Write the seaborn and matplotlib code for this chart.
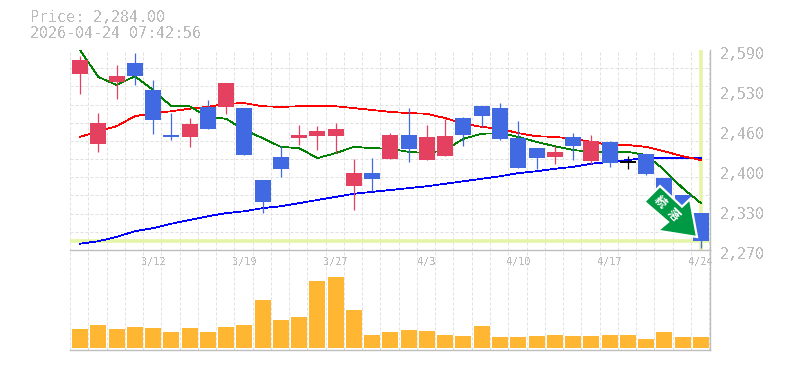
import matplotlib
matplotlib.use("Agg")
import matplotlib.pyplot as plt
from matplotlib.patches import Polygon
from matplotlib.transforms import ScaledTranslation
import numpy as np
import pandas as pd
import seaborn as sns

days = list(range(35))
opens = [2552,2440,2539,2569,2526,2454,2451,2499,2499,2497,2382,2419,2449,2452,2452,2372,2393,2416,2454,2414,
         2420,2481,2500,2497,2449,2433,2419,2451,2412,2443,2411,2424,2385,2358,2329]
closes = [2574,2473,2548,2548,2478,2451,2472,2464,2537,2422,2347,2400,2454,2460,2464,2393,2384,2454,2432,2451,
          2452,2454,2484,2448,2401,2417,2427,2436,2444,2409,2411,2392,2335,2310,2284]
highs = [2580,2489,2566,2585,2542,2489,2481,2510,2537,2497,2382,2436,2470,2468,2473,2416,2417,2457,2497,2470,
         2480,2483,2500,2505,2476,2433,2436,2457,2454,2444,2420,2424,2385,2358,2329]
lows = [2520,2427,2512,2534,2456,2446,2435,2464,2488,2422,2329,2387,2438,2430,2425,2334,2364,2416,2411,2414,
        2420,2436,2467,2446,2401,2400,2408,2414,2408,2403,2399,2390,2335,2310,2273]
ma_green = [2590,2547,2534,2548,2526,2500,2500,2483,2480,2462,2449,2435,2433,2417,2425,2435,2433,2432,2427,2425,
            2430,2448,2456,2457,2451,2443,2436,2430,2427,2427,2427,2422,2398,2369,2345]
ma_red = [2451,2460,2468,2484,2489,2492,2496,2499,2504,2505,2500,2499,2500,2500,2500,2497,2494,2491,2489,2488,
          2481,2472,2467,2464,2457,2452,2451,2448,2443,2438,2438,2435,2428,2420,2414]
ma_blue = [2280,2284,2291,2300,2305,2312,2318,2324,2329,2332,2337,2340,2345,2350,2355,2360,2363,2366,2369,2372,
           2376,2380,2384,2388,2393,2396,2400,2403,2408,2411,2414,2417,2417,2417,2417]
volumes = [19,23,19,21,20,16,20,16,21,23,48,28,31,67,71,38,13,16,18,17,13,12,22,11,11,12,13,12,12,13,13,9,16,11,11]
price_ticks = [2590,2526,2462,2398,2334,2270]
price_labels = ["2,590","2,530","2,460","2,400","2,330","2,270"]
date_ticks = [4,9,14,19,24,29,34]
date_labels = ["3/12","3/19","3/27","4/3","4/10","4/17","4/24"]
last_price = 2284

W, H = 785, 370
GRID = "#e0e0e0"; AXIS = "#bdbdbd"; TXT = "#bbbbbb"; HILITE = "#e4f4a8"
RED = "#e4405f"; BLUE = "#4169e1"; AMBER = "#ffb733"

sns.set_theme(style="white")
plt.rcParams["font.family"] = ["DejaVu Sans Mono"]
plt.rcParams["text.antialiased"] = False

fig = plt.figure(figsize=(W/100, H/100), dpi=100, facecolor="white")
ax = fig.add_axes([70/W, 120/H, 640/W, 200/H])
av = fig.add_axes([70/W, 20/H, 640/W, 100/H])
xlim = (-0.548, 34.5)
xgrid = [-0.548 + k for k in range(36)]

# volume panel
sns.barplot(x=days, y=volumes, native_scale=True, width=0.876, gap=0, color=AMBER,
            saturation=1, linewidth=0, ax=av, zorder=3)
av.set_xlim(*xlim); av.set_ylim(-2, 98)
av.set_xlabel(""); av.set_ylabel("")
av.set_yticks([])
av.set_xticks([]); av.set_xticks(xgrid, minor=True)
av.tick_params(which="both", length=0, labelbottom=False)
av.grid(False)
av.grid(which="minor", axis="x", color=GRID, lw=0.72, ls=(0, (3, 2)), zorder=0)
av.set_axisbelow(True)
for s, vis in dict(left=False, top=True, right=True, bottom=True).items():
    av.spines[s].set_visible(vis); av.spines[s].set_color(AXIS); av.spines[s].set_linewidth(1.0)
for d, lab in zip(date_ticks, date_labels):
    av.annotate(lab, (d, 0.885), xycoords=av.get_xaxis_transform(), ha="center", va="center",
                fontsize=7.4, color=TXT, zorder=5, annotation_clip=False)

# price panel
ax.axhline(last_price, color=HILITE, lw=2.6, zorder=1.5)
ax.axvline(days[-1], color=HILITE, lw=2.6, zorder=1.5)
ma = pd.DataFrame(dict(day=days, green=ma_green, red=ma_red, blue=ma_blue))
for col, c in [("blue", "#0000ff"), ("red", "#ff0000"), ("green", "#008000")]:
    sns.lineplot(data=ma, x="day", y=col, color=c, errorbar=None, ax=ax, zorder=2,
                 linewidth=0.55, antialiased=False, clip_on=True)

for d, o, c, h, l in zip(days, opens, closes, highs, lows):
    col = "#000000" if o == c else (RED if c > o else BLUE)
    ax.vlines(d, l, h, color=col, lw=0.9, zorder=3)
    if o == c:
        ax.hlines(o, d - 0.438, d + 0.438, color=col, lw=1.4, zorder=3)
    else:
        ax.bar(d, abs(c - o), bottom=min(o, c), width=0.876, color=col, lw=0, zorder=3)

ax.set_xlim(*xlim); ax.set_ylim(2270, 2590)
ax.set_xlabel(""); ax.set_ylabel("")
ax.set_xticks([]); ax.set_xticks(xgrid, minor=True)
ax.set_yticks(price_ticks, labels=price_labels)
ax.set_yticks([2270 + k*320/11 for k in range(12)], minor=True)
ax.yaxis.tick_right()
ax.tick_params(which="both", length=0)
ax.tick_params(axis="y", which="major", pad=7.2, labelsize=10.8, labelcolor=TXT)
ax.tick_params(axis="x", labelbottom=False)
ax.grid(False)
ax.grid(which="minor", color=GRID, lw=0.72, ls=(0, (3, 2)), zorder=0)
ax.set_axisbelow(True)
for lab in ax.get_yticklabels():
    lab.set_transform(lab.get_transform() + ScaledTranslation(0, -3/100, fig.dpi_scale_trans))
for s, vis in dict(left=False, top=False, right=True, bottom=False).items():
    ax.spines[s].set_visible(vis); ax.spines[s].set_color(AXIS); ax.spines[s].set_linewidth(1.0)

fig.text(30/W, 1-18/H, "Price: 2,284.00", fontsize=10.8, color=TXT, va="center", ha="left")
fig.text(30/W, 1-33/H, "2026-04-24 07:42:56", fontsize=10.8, color=TXT, va="center", ha="left")

# signal badge
badge = [(660,186),(682,206.7),(690,199),(697,237),(657.7,230.7),(668,222),(644.3,201.7)]
fig.add_artist(Polygon([(x/W, 1-y/H) for x, y in badge], closed=True, transform=fig.transFigure,
                       facecolor="#009944", edgecolor="white", lw=1.6, joinstyle="miter", zorder=10))
for s, x, y in [("続", 660, 202), ("落", 673, 215)]:
    fig.text(x/W, 1-y/H, s, family=["Noto Sans CJK JP", "DejaVu Sans"], fontweight="bold", color="white",
             fontsize=8.5, rotation=-45, ha="center", va="center", zorder=11, antialiased=True)

fig.savefig("out.png", dpi=100, facecolor="white")
